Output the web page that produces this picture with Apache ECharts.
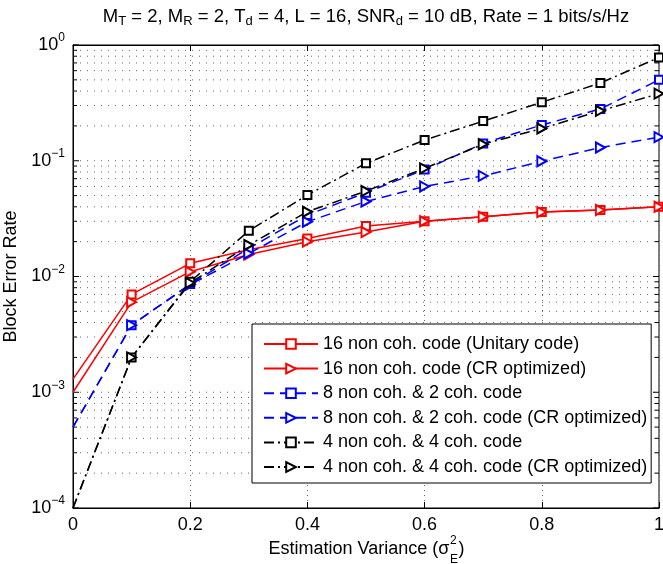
<!DOCTYPE html>
<html><head><meta charset="utf-8">
<script src="https://cdn.jsdelivr.net/npm/echarts@6/dist/echarts.min.js"></script>
<style>html,body{margin:0;padding:0;background:#fff}#c{width:663px;height:564px}</style>
</head><body><div id="c"></div>
<script>
// ---- data ----
const xValues = [0, 0.1, 0.2, 0.3, 0.4, 0.5, 0.6, 0.7, 0.8, 0.9, 1.0];
const red16Unitary = [1.3e-3, 7.0e-3, 1.3e-2, 1.7e-2, 2.13e-2, 2.73e-2, 3.0e-2, 3.28e-2, 3.6e-2, 3.75e-2, 4.0e-2];
const red16CR      = [1.0e-3, 6.0e-3, 1.1e-2, 1.55e-2, 2.0e-2, 2.42e-2, 3.0e-2, 3.28e-2, 3.6e-2, 3.75e-2, 4.0e-2];
const blue8x2      = [5.0e-4, 3.8e-3, 8.6e-3, 1.75e-2, 3.4e-2, 5.3e-2, 8.4e-2, 0.141, 0.204, 0.28, 0.50];
const blue8x2CR    = [5.0e-4, 3.8e-3, 8.5e-3, 1.58e-2, 2.97e-2, 4.45e-2, 6.0e-2, 7.4e-2, 9.9e-2, 0.13, 0.16];
const black4x4     = [1.0e-4, 2.0e-3, 9.0e-3, 2.48e-2, 5.06e-2, 9.5e-2, 0.151, 0.22, 0.32, 0.47, 0.78];
const black4x4CR   = [1.0e-4, 2.0e-3, 8.8e-3, 1.87e-2, 3.63e-2, 5.47e-2, 8.6e-2, 0.139, 0.19, 0.27, 0.38];
const seriesNames = [
  '16 non coh. code (Unitary code)',
  '16 non coh. code (CR optimized)',
  '8 non coh. & 2 coh. code',
  '8 non coh. & 2 coh. code (CR optimized)',
  '4 non coh. & 4 coh. code',
  '4 non coh. & 4 coh. code (CR optimized)'
];
const xTicks = [0, 0.2, 0.4, 0.6, 0.8, 1];
const yDecades = [1e-4, 1e-3, 1e-2, 1e-1, 1];
const yMinorMultipliers = [2, 3, 4, 5, 6, 7, 8, 9];

const FONT = '"Liberation Sans", Arial, Helvetica, sans-serif';
const FS = 18;

// horizontal grid levels (majors + minors)
const gridLevels = [];
yDecades.forEach((d, i) => {
  gridLevels.push([0, d, 1]);
  if (i < yDecades.length - 1) yMinorMultipliers.forEach(m => gridLevels.push([0, d * m, 0]));
});

function mk(name, vals, color, dash, symbol, rotate, size) {
  return {
    name, type: 'line',
    data: xValues.map((x, i) => i === 0 ? { value: [x, vals[i]], symbol: 'none' } : [x, vals[i]]),
    symbol, symbolSize: size, symbolRotate: rotate, showAllSymbol: true,
    color: color,
    lineStyle: { color, width: 1.5, type: dash },
    itemStyle: { color, borderColor: color, borderWidth: 1.5 },
    z: 5, animation: false, clip: true
  };
}

const chart = echarts.init(document.getElementById('c'), null, { renderer: 'canvas' });

// measure x-axis title parts
const cv = document.createElement('canvas').getContext('2d');
function tw(t, fs) { cv.font = fs + 'px ' + FONT; return cv.measureText(t).width; }
const xMain = 'Estimation Variance (σ';
const wMain = tw(xMain, FS), wSS = Math.max(tw('2', 12), tw('E', 12)), wClose = tw(')', FS);
const xCenter = 366, xStart = xCenter - (wMain + wSS + wClose) / 2;
const xNameY = 550;

const option = {
  animation: false,
  backgroundColor: '#fff',
  textStyle: { fontFamily: FONT },
  title: {
    text: 'M{sub|T} = 2, M{sub|R} = 2, T{sub|d} = 4, L = 16, SNR{sub|d} = 10 dB, Rate = 1 bits/s/Hz',
    left: 361, textAlign: 'center', top: 0,
    textStyle: {
      fontSize: 18.5, fontWeight: 'normal', color: '#000', fontFamily: FONT,
      rich: { sub: { fontSize: 13, color: '#000', fontFamily: FONT, padding: [10, 0, 0, 0] } }
    }
  },
  grid: { left: 73, right: 4, top: 45, bottom: 56, show: true, borderColor: '#000', borderWidth: 1,
    backgroundColor: 'transparent', containLabel: false, outerBoundsMode: 'none' },
  legend: {
    orient: 'vertical', left: 252, top: 324,
    backgroundColor: '#fff', borderColor: '#000', borderWidth: 1, borderRadius: 0,
    padding: [11, 4, 7, 11],
    itemWidth: 54, itemHeight: 12, itemGap: 6.6,
    textStyle: { fontSize: FS, color: '#000', fontFamily: FONT },
    data: seriesNames
  },
  xAxis: [{
    type: 'value', min: 0, max: 1, interval: 0.2,
    axisLine: { show: true, lineStyle: { color: '#000', width: 1 } },
    axisTick: { show: true, inside: true, length: 6, lineStyle: { color: '#000' } },
    axisLabel: { color: '#000', fontSize: FS, fontFamily: FONT, margin: 8,
      formatter: v => String(Math.round(v * 10) / 10) },
    splitLine: { show: true, lineStyle: { color: '#666', width: 1, type: [1, 4] } }
  }, {
    type: 'value', min: 0, max: 1, interval: 0.2, position: 'top',
    axisLine: { show: true, lineStyle: { color: '#000' } },
    axisTick: { show: true, inside: true, length: 6, lineStyle: { color: '#000' } },
    axisLabel: { show: false }, splitLine: { show: false }
  }],
  yAxis: [{
    type: 'log', logBase: 10, min: 1e-4, max: 1,
    axisLine: { show: true, lineStyle: { color: '#000' } },
    axisTick: { show: false }, splitLine: { show: false },
    axisLabel: {
      color: '#000', fontSize: FS, fontFamily: FONT, margin: 8,
      formatter: v => { const e = Math.round(Math.log10(v)); return '10{sup|' + (e < 0 ? '\u2212' + (-e) : e) + '}'; },
      rich: { sup: { fontSize: 12, color: '#000', fontFamily: FONT, padding: [0, 0, 14, 0] } }
    },
    name: 'Block Error Rate', nameLocation: 'middle', nameGap: 47,
    nameTextStyle: { fontSize: FS, color: '#000', fontFamily: FONT }
  }, {
    type: 'log', logBase: 10, min: 1e-4, max: 1, position: 'right',
    axisLine: { show: true, lineStyle: { color: '#000' } },
    axisTick: { show: false }, axisLabel: { show: false }, splitLine: { show: false }
  }],
  graphic: [
    { type: 'text', left: xStart, top: xNameY - 10, style: { text: xMain, font: FS + 'px ' + FONT, fill: '#000' } },
    { type: 'text', left: xStart + wMain + 0.5, top: xNameY - 15, style: { text: '2', font: '12px ' + FONT, fill: '#000' } },
    { type: 'text', left: xStart + wMain + 0.5, top: xNameY + 4, style: { text: 'E', font: '12px ' + FONT, fill: '#000' } },
    { type: 'text', left: xStart + wMain + wSS + 1, top: xNameY - 10, style: { text: ')', font: FS + 'px ' + FONT, fill: '#000' } }
  ],
  series: [
    {
      type: 'custom', silent: true, z: 1, animation: false, clip: false,
      data: gridLevels, encode: { x: 0, y: 1 },
      renderItem: (params, api) => {
        const v = api.value(1), major = api.value(2);
        const cs = params.coordSys;
        const y = api.coord([0, v])[1];
        const L = cs.x, R = cs.x + cs.width;
        const t = major ? 6 : 4;
        const ch = [];
        if (v > 1e-4 && v < 1) ch.push({ type: 'line', shape: { x1: L, y1: y, x2: R, y2: y }, style: { stroke: '#666', lineWidth: 1, lineDash: [1, 6] } });
        ch.push({ type: 'line', shape: { x1: L, y1: y, x2: L + t, y2: y }, style: { stroke: '#000', lineWidth: 1 } });
        ch.push({ type: 'line', shape: { x1: R, y1: y, x2: R - t, y2: y }, style: { stroke: '#000', lineWidth: 1 } });
        return { type: 'group', children: ch };
      }
    },
    mk(seriesNames[0], red16Unitary, '#ff0000', 'solid', 'emptyRect', 0, 8),
    mk(seriesNames[1], red16CR, '#ff0000', 'solid', 'emptyTriangle', -90, [10, 9]),
    mk(seriesNames[2], blue8x2, '#0000ff', [10, 6], 'emptyRect', 0, 8),
    mk(seriesNames[3], blue8x2CR, '#0000ff', [10, 6], 'emptyTriangle', -90, [10, 9]),
    mk(seriesNames[4], black4x4, '#000000', [10, 4, 2, 4], 'emptyRect', 0, 8),
    mk(seriesNames[5], black4x4CR, '#000000', [10, 4, 2, 4], 'emptyTriangle', -90, [10, 9])
  ]
};
chart.setOption(option);
</script>
</body></html>
